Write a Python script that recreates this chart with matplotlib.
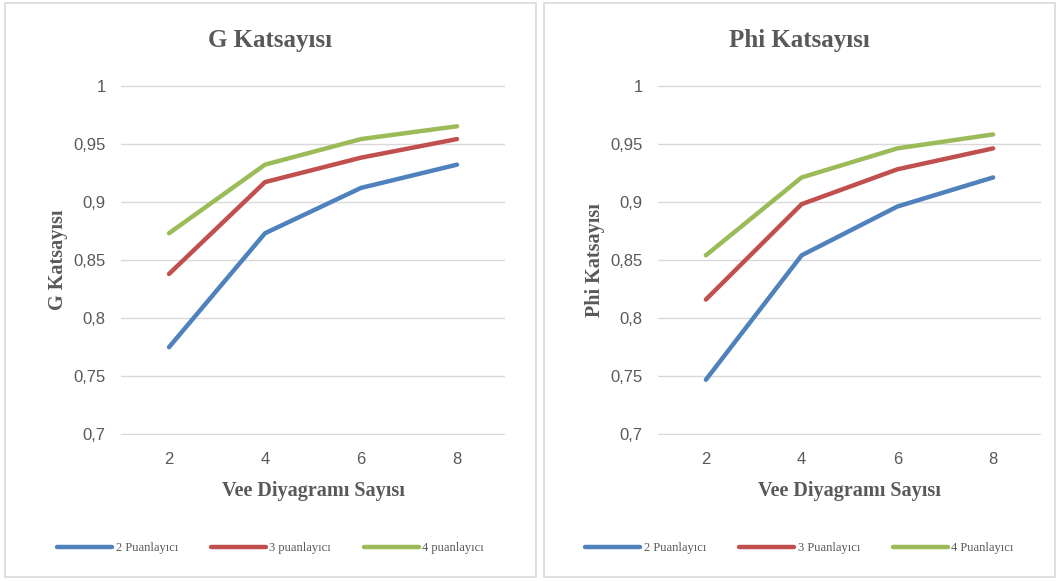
import matplotlib.pyplot as plt
from matplotlib.patches import Rectangle

plt.rcParams['font.family'] = ['Liberation Serif', 'DejaVu Serif']

# data
vee_counts = [2, 4, 6, 8]
g_2 = [0.775, 0.873, 0.912, 0.932]
g_3 = [0.838, 0.917, 0.938, 0.954]
g_4 = [0.873, 0.932, 0.954, 0.965]
phi_2 = [0.747, 0.854, 0.896, 0.921]
phi_3 = [0.816, 0.898, 0.928, 0.946]
phi_4 = [0.854, 0.921, 0.946, 0.958]
y_ticks = [0.7, 0.75, 0.8, 0.85, 0.9, 0.95, 1.0]
y_tick_labels = ['0,7', '0,75', '0,8', '0,85', '0,9', '0,95', '1']
g_legend = ['2 Puanlayıcı', '3 puanlayıcı', '4 puanlayıcı']
phi_legend = ['2 Puanlayıcı', '3 Puanlayıcı', '4 Puanlayıcı']

colors = ['#4F81BD', '#C0504D', '#9BBB59']
text_gray = '#595959'
W, H = 1059, 581


def px_box(x0, y0, x1, y1):
    # pixel box (top-left origin) -> figure fraction rect
    return [x0 / W, (H - y1) / H, (x1 - x0) / W, (y1 - y0) / H]


def draw_panel(fig, frame, axbox, title, ylabel, series, labels):
    fx0, fy0, fx1, fy1 = frame
    fig.patches.append(Rectangle((fx0 / W, (H - fy1) / H), (fx1 - fx0) / W, (fy1 - fy0) / H,
                                 transform=fig.transFigure, fill=False,
                                 edgecolor='#d9d9d9', linewidth=1.2))
    ax = fig.add_axes(px_box(*axbox))
    for vals, c, lab in zip(series, colors, labels):
        ax.plot(range(len(vee_counts)), vals, color=c, linewidth=3.2, label=lab,
                solid_capstyle='round', solid_joinstyle='round')
    ax.set_xlim(-0.5, len(vee_counts) - 0.5)
    ax.set_ylim(0.6995, 1.0005)
    ax.set_yticks(y_ticks)
    ax.set_yticklabels(y_tick_labels)
    ax.set_xticks(range(len(vee_counts)))
    ax.set_xticklabels([str(v) for v in vee_counts])
    ax.tick_params(length=0, labelsize=12, colors=text_gray, pad=12)
    ax.tick_params(axis='y', pad=11)
    for t in ax.get_xticklabels() + ax.get_yticklabels():
        t.set_family('Liberation Sans')
    ax.yaxis.grid(True, color='#d9d9d9', linewidth=1)
    ax.set_axisbelow(True)
    for s in ax.spines.values():
        s.set_visible(False)
    fig.text((fx0 + fx1) / 2 / W, (H - 41) / H, title, ha='center', va='center',
             fontsize=18, fontweight='bold', color=text_gray)
    ax.set_ylabel(ylabel, fontsize=14.5, fontweight='bold', color=text_gray, labelpad=4)
    ax.set_xlabel('Vee Diyagramı Sayısı', fontsize=14.5, fontweight='bold', color=text_gray, labelpad=10)
    ax.legend(loc='center', bbox_to_anchor=((fx0 + fx1) / 2 / W, (H - 548) / H),
              bbox_transform=fig.transFigure, ncol=3, frameon=False, fontsize=9,
              handlelength=4.4, handletextpad=0.3, columnspacing=2.6, labelcolor=text_gray)
    return ax


fig = plt.figure(figsize=(W / 100, H / 100), dpi=100)
draw_panel(fig, (5, 3, 536, 577), (121, 85, 505, 435), 'G Katsayısı', 'G Katsayısı',
           [g_2, g_3, g_4], g_legend)
draw_panel(fig, (544, 3, 1055, 577), (658, 85, 1041, 435), 'Phi Katsayısı', 'Phi Katsayısı',
           [phi_2, phi_3, phi_4], phi_legend)
plt.savefig('out.png', dpi=100)
